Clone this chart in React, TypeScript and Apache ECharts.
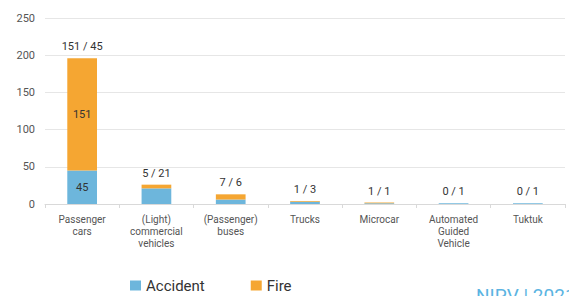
import React, { useEffect, useRef } from "react";
import * as echarts from "echarts";

const categories = [
  "Passenger\ncars",
  "(Light)\ncommercial\nvehicles",
  "(Passenger)\nbuses",
  "Trucks",
  "Microcar",
  "Automated\nGuided\nVehicle",
  "Tuktuk",
];
const accident = [45, 21, 6, 3, 1, 1, 1];
const fire = [151, 5, 7, 1, 1, 0, 0];
const yTicks = [0, 50, 100, 150, 200, 250];

export default function App() {
  const ref = useRef<HTMLDivElement>(null);
  useEffect(() => {
    const chart = echarts.init(ref.current!, null, { renderer: "svg" });
    const totals = accident.map((a, i) => a + fire[i]);
    const font = "Roboto, 'Noto Sans', sans-serif";
    chart.setOption({
      animation: false,
      textStyle: { fontFamily: font },
      grid: { left: 45, right: 4, top: 18, bottom: 92, containLabel: false },
      legend: {
        data: ["Accident", "Fire"],
        left: 125,
        top: 273,
        itemWidth: 11,
        itemHeight: 10,
        itemGap: 46,
        itemTextGap: 5,
        icon: "rect",
        textStyle: { fontSize: 15, color: "#333", fontFamily: font },
      },
      xAxis: {
        type: "category",
        data: categories,
        axisLine: { lineStyle: { color: "#d9d9d9" } },
        axisTick: { show: true, length: 4, lineStyle: { color: "#d9d9d9" } },
        axisLabel: {
          color: "#555",
          fontSize: 10,
          lineHeight: 12,
          margin: 9,
          interval: 0,
          fontFamily: font,
        },
      },
      yAxis: {
        type: "value",
        min: yTicks[0],
        max: yTicks[yTicks.length - 1],
        interval: 50,
        axisLine: { show: false },
        axisTick: { show: false },
        splitLine: { lineStyle: { color: "#e6e6e6" } },
        axisLabel: { color: "#555", fontSize: 11, margin: 10, fontFamily: font },
      },
      series: [
        {
          name: "Accident",
          type: "bar",
          stack: "s",
          barWidth: "40%",
          data: accident,
          itemStyle: { color: "#6db6dc" },
          label: {
            show: true,
            position: "inside",
            color: "#333",
            fontSize: 11,
            formatter: (p: any) => (p.value >= 30 ? String(p.value) : ""),
          },
        },
        {
          name: "Fire",
          type: "bar",
          stack: "s",
          barWidth: "40%",
          data: fire,
          itemStyle: { color: "#f5a632" },
          label: {
            show: true,
            position: "inside",
            color: "#333",
            fontSize: 11,
            formatter: (p: any) => (p.value >= 30 ? String(p.value) : ""),
          },
        },
        {
          name: "Total",
          type: "bar",
          barWidth: "40%",
          barGap: "-100%",
          data: totals,
          silent: true,
          z: 0,
          itemStyle: { color: "rgba(0,0,0,0)" },
          label: {
            show: true,
            position: "top",
            distance: 6,
            color: "#333",
            fontSize: 11,
            formatter: (p: any) => `${fire[p.dataIndex]} / ${accident[p.dataIndex]}`,
          },
        },
      ],
      graphic: [
        {
          type: "text",
          left: 476,
          top: 286,
          style: {
            text: "NIPV | 2021",
            fill: "#5bb4e2",
            fontSize: 19,
            fontFamily: font,
          },
        },
      ],
    });
    return () => chart.dispose();
  }, []);
  return <div ref={ref} style={{ width: 569, height: 296, position: "absolute", left: 0, top: 0 }} />;
}
